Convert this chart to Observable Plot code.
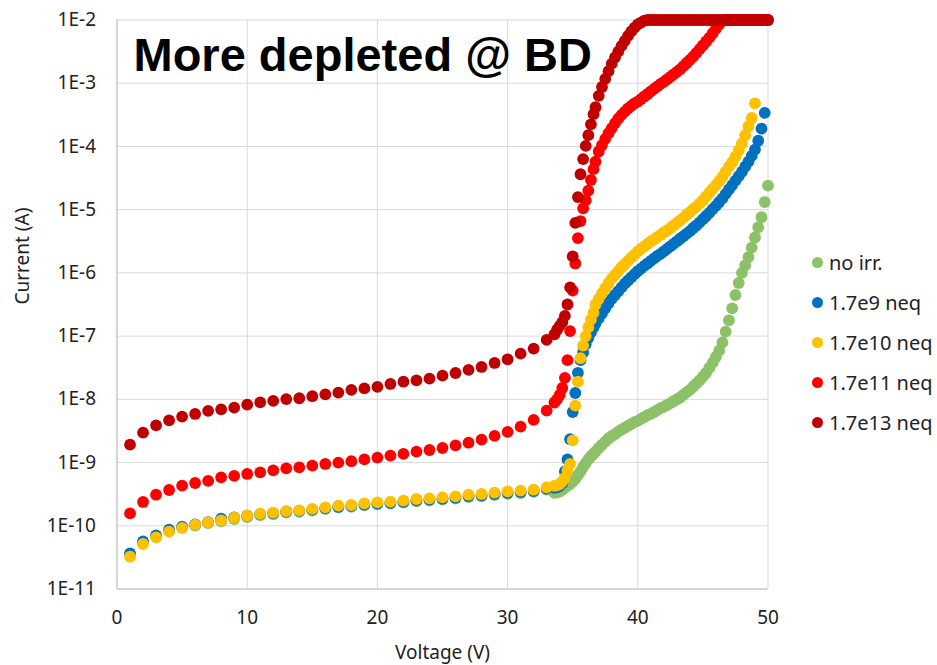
<!DOCTYPE html>
<html>
<head>
<meta charset="utf-8">
<script src="https://cdn.jsdelivr.net/npm/d3@7"></script>
<script src="https://cdn.jsdelivr.net/npm/@observablehq/plot@0.6"></script>
<style>
  body { margin: 0; background: #fff; }
  #wrap { position: relative; width: 937px; height: 665px; font-family: "Noto Sans", sans-serif; }
  #legend { position: absolute; left: 0; top: 0; }
  .item { position: absolute; display: flex; align-items: center; font-size: 20px; color: #222; white-space: nowrap; }
  .swatch { width: 11px; height: 11px; border-radius: 50%; margin-right: 6px; }
</style>
</head>
<body>
<div id="wrap"><div id="legend"></div></div>
<script>
// Bias voltage steps (V): 1 V steps at low bias, finer steps through breakdown
const lowVolts = [1, 2, 3, 4, 5, 6, 7, 8, 9, 10, 11, 12, 13, 14, 15, 16, 17, 18, 19, 20,
  21, 22, 23, 24, 25, 26, 27, 28, 29, 30, 31, 32, 33];
const highVolts = [33.6, 33.8, 34.0, 34.2, 34.4, 34.6, 34.8, 35.0, 35.2, 35.4, 35.6, 35.8,
  36.0, 36.2, 36.4, 36.6,
  36.75, 37.0, 37.25, 37.5, 37.75, 38.0, 38.25, 38.5, 38.75, 39.0, 39.25, 39.5, 39.75,
  40.0, 40.25, 40.5, 40.75, 41.0, 41.25, 41.5, 41.75, 42.0, 42.25, 42.5, 42.75,
  43.0, 43.25, 43.5, 43.75, 44.0, 44.25, 44.5, 44.75, 45.0, 45.25, 45.5, 45.75,
  46.0, 46.25, 46.5, 46.75, 47.0, 47.25, 47.5, 47.75, 48.0, 48.25, 48.5, 48.75,
  49.0, 49.25, 49.5, 49.75, 50.0];

// Leakage current (A); null = no measurement at that step
const noIrrLow = [3.5e-11, 5.4e-11, 6.8e-11, 8.3e-11, 9.4e-11, 1.01e-10, 1.10e-10, 1.18e-10, 1.28e-10, 1.37e-10,
  1.46e-10, 1.52e-10, 1.61e-10, 1.66e-10, 1.74e-10, 1.84e-10, 1.94e-10, 1.99e-10, 2.10e-10, 2.18e-10,
  2.24e-10, 2.32e-10, 2.44e-10, 2.51e-10, 2.60e-10, 2.70e-10, 2.85e-10, 2.93e-10, 3.06e-10, 3.21e-10,
  3.30e-10, 3.43e-10, 3.72e-10];
const noIrrHigh = [3.31e-10, 3.39e-10, 3.47e-10, 3.72e-10, 3.98e-10, 4.27e-10, 4.57e-10, 5.01e-10, 5.50e-10,
  6.31e-10, 7.24e-10, 8.51e-10, 9.77e-10, 1.12e-9, 1.26e-9, 1.38e-9,
  1.48e-9, 1.70e-9, 1.91e-9, 2.14e-9, 2.40e-9, 2.63e-9, 2.82e-9, 3.09e-9, 3.31e-9, 3.55e-9, 3.80e-9,
  4.07e-9, 4.37e-9, 4.57e-9, 4.90e-9, 5.25e-9, 5.62e-9, 5.89e-9, 6.31e-9, 6.76e-9, 7.24e-9, 7.59e-9,
  8.13e-9, 8.71e-9, 9.33e-9, 1.00e-8, 1.07e-8, 1.18e-8, 1.29e-8, 1.41e-8, 1.58e-8, 1.78e-8, 2.00e-8,
  2.29e-8, 2.63e-8, 3.16e-8, 3.80e-8, 4.68e-8, 5.89e-8, 7.94e-8, 1.18e-7, 1.78e-7, 2.75e-7, 4.47e-7,
  6.92e-7, 1.00e-6, 1.32e-6, 1.78e-6, 2.51e-6, 3.63e-6, 5.25e-6, 7.59e-6, 1.32e-5, 2.40e-5];

const e9Low = [3.66e-11, 5.66e-11, 7.05e-11, 8.70e-11, 9.70e-11, 1.05e-10, 1.14e-10, 1.30e-10, 1.36e-10, 1.44e-10,
  1.53e-10, 1.59e-10, 1.68e-10, 1.72e-10, 1.80e-10, 1.90e-10, 2.00e-10, 2.06e-10, 2.17e-10, 2.25e-10,
  2.31e-10, 2.39e-10, 2.52e-10, 2.60e-10, 2.68e-10, 2.78e-10, 2.95e-10, 3.03e-10, 3.18e-10, 3.33e-10,
  3.42e-10, 3.55e-10, 3.88e-10];
const e9High = [3.98e-10, 4.07e-10, 4.27e-10, 4.68e-10, 7.24e-10, 1.12e-9, 2.34e-9, 6.31e-9, 1.26e-8,
  2.63e-8, 4.17e-8, 5.50e-8, 7.41e-8, 9.33e-8, 1.15e-7, 1.38e-7,
  1.58e-7, 1.91e-7, 2.29e-7, 2.75e-7, 3.31e-7, 3.89e-7, 4.47e-7, 5.13e-7, 5.89e-7, 6.76e-7, 7.59e-7,
  8.51e-7, 9.55e-7, 1.07e-6, 1.17e-6, 1.29e-6, 1.41e-6, 1.55e-6, 1.70e-6, 1.86e-6, 2.00e-6, 2.19e-6,
  2.40e-6, 2.63e-6, 2.88e-6, 3.16e-6, 3.47e-6, 3.80e-6, 4.17e-6, 4.57e-6, 5.13e-6, 5.62e-6, 6.31e-6,
  7.08e-6, 7.94e-6, 8.91e-6, 1.02e-5, 1.15e-5, 1.32e-5, 1.51e-5, 1.78e-5, 2.09e-5, 2.45e-5, 2.88e-5,
  3.39e-5, 3.98e-5, 4.79e-5, 5.75e-5, 7.08e-5, 8.91e-5, 1.23e-4, 1.91e-4, 3.39e-4, null];

const e10Low = [3.24e-11, 5.15e-11, 6.56e-11, 8.07e-11, 9.23e-11, 1.04e-10, 1.13e-10, 1.22e-10, 1.34e-10, 1.44e-10,
  1.55e-10, 1.61e-10, 1.71e-10, 1.75e-10, 1.85e-10, 1.96e-10, 2.08e-10, 2.13e-10, 2.26e-10, 2.35e-10,
  2.41e-10, 2.50e-10, 2.65e-10, 2.72e-10, 2.81e-10, 2.92e-10, 3.10e-10, 3.18e-10, 3.34e-10, 3.50e-10,
  3.59e-10, 3.72e-10, 4.05e-10];
const e10High = [4.27e-10, 4.37e-10, 4.57e-10, 5.01e-10, 5.75e-10, 7.59e-10, 9.55e-10, 2.24e-9, 7.94e-9,
  1.91e-8, 4.47e-8, 7.08e-8, 1.00e-7, 1.38e-7, 1.82e-7, 2.34e-7,
  3.16e-7, 3.89e-7, 4.79e-7, 5.75e-7, 6.92e-7, 8.13e-7, 9.33e-7, 1.07e-6, 1.23e-6, 1.38e-6, 1.55e-6,
  1.74e-6, 1.95e-6, 2.19e-6, 2.40e-6, 2.63e-6, 2.88e-6, 3.16e-6, 3.39e-6, 3.72e-6, 3.98e-6, 4.37e-6,
  4.68e-6, 5.13e-6, 5.62e-6, 6.17e-6, 6.76e-6, 7.41e-6, 8.32e-6, 9.12e-6, 1.02e-5, 1.12e-5, 1.26e-5,
  1.41e-5, 1.62e-5, 1.86e-5, 2.14e-5, 2.45e-5, 2.82e-5, 3.31e-5, 3.98e-5, 4.79e-5, 5.62e-5, 6.92e-5,
  8.71e-5, 1.12e-4, 1.51e-4, 2.09e-4, 2.82e-4, 4.79e-4, null, null, null, null];

const e11Low = [1.57e-10, 2.38e-10, 3.10e-10, 3.68e-10, 4.31e-10, 4.75e-10, 5.12e-10, 5.84e-10, 6.14e-10, 6.60e-10,
  7.00e-10, 7.53e-10, 8.10e-10, 8.40e-10, 8.93e-10, 9.50e-10, 9.96e-10, 1.05e-9, 1.12e-9, 1.20e-9,
  1.29e-9, 1.37e-9, 1.49e-9, 1.58e-9, 1.70e-9, 1.87e-9, 2.06e-9, 2.30e-9, 2.64e-9, 3.05e-9,
  3.70e-9, 4.72e-9, 6.62e-9];
const e11High = [8.91e-9, 1.00e-8, 1.17e-8, 1.51e-8, 2.19e-8, 4.17e-8, 1.20e-7, 5.25e-7, 1.41e-6,
  3.55e-6, 6.61e-6, 1.05e-5, 1.41e-5, 2.00e-5, 2.95e-5, 4.37e-5,
  5.75e-5, 8.32e-5, 1.05e-4, 1.32e-4, 1.62e-4, 1.95e-4, 2.34e-4, 2.75e-4, 3.16e-4, 3.55e-4, 3.98e-4,
  4.37e-4, 4.79e-4, 5.13e-4, 5.62e-4, 6.17e-4, 6.76e-4, 7.41e-4, 8.13e-4, 8.91e-4, 9.77e-4, 1.05e-3,
  1.15e-3, 1.26e-3, 1.38e-3, 1.51e-3, 1.66e-3, 1.86e-3, 2.09e-3, 2.34e-3, 2.63e-3, 3.02e-3, 3.47e-3,
  3.98e-3, 4.57e-3, 5.25e-3, 6.17e-3, 7.24e-3, 8.51e-3, 9.77e-3, 1e-2, 1e-2, 1e-2, 1e-2,
  1e-2, 1e-2, 1e-2, 1e-2, 1e-2, 1e-2, 1e-2, 1e-2, 1e-2, 1e-2];

const e13Low = [1.92e-9, 2.97e-9, 3.88e-9, 4.66e-9, 5.33e-9, 5.87e-9, 6.55e-9, 6.95e-9, 7.39e-9, 8.24e-9,
  8.97e-9, 9.44e-9, 1.01e-8, 1.04e-8, 1.12e-8, 1.20e-8, 1.28e-8, 1.41e-8, 1.49e-8, 1.57e-8,
  1.75e-8, 1.90e-8, 2.00e-8, 2.13e-8, 2.37e-8, 2.61e-8, 2.92e-8, 3.25e-8, 3.76e-8, 4.30e-8,
  5.28e-8, 6.34e-8, 8.70e-8];
const e13High = [1.07e-7, 1.26e-7, 1.45e-7, 1.66e-7, 2.09e-7, 3.16e-7, 5.89e-7, 1.82e-6, 6.17e-6,
  1.58e-5, 3.63e-5, 6.31e-5, 1.02e-4, 1.51e-4, 2.24e-4, 3.24e-4,
  4.17e-4, 6.31e-4, 8.71e-4, 1.17e-3, 1.55e-3, 2.04e-3, 2.57e-3, 3.16e-3, 3.89e-3, 4.68e-3, 5.62e-3,
  6.61e-3, 7.59e-3, 8.51e-3, 9.12e-3, 9.77e-3, 1e-2, 1e-2, 1e-2, 1e-2, 1e-2, 1e-2, 1e-2,
  1e-2, 1e-2, 1e-2, 1e-2, 1e-2, 1e-2, 1e-2, 1e-2, 1e-2, 1e-2, 1e-2, 1e-2, 1e-2, 1e-2, 1e-2,
  1e-2, 1e-2, 1e-2, 1e-2, 1e-2, 1e-2, 1e-2, 1e-2, 1e-2, 1e-2, 1e-2, 1e-2, 1e-2, 1e-2, 1e-2, 1e-2];

const seriesNames = ["no irr.", "1.7e9 neq", "1.7e10 neq", "1.7e11 neq", "1.7e13 neq"];
const seriesColors = ["#8CC168", "#0070C0", "#FFC000", "#FF0000", "#C00000"];
const seriesLow = [noIrrLow, e9Low, e10Low, e11Low, e13Low];
const seriesHigh = [noIrrHigh, e9High, e10High, e11High, e13High];

const xTicks = [0, 10, 20, 30, 40, 50];
const yTicks = [1e-11, 1e-10, 1e-9, 1e-8, 1e-7, 1e-6, 1e-5, 1e-4, 1e-3, 1e-2];
const title = "More depleted @ BD";

// Long-format rows per series, skipping missing steps
const seriesRows = seriesNames.map((name, k) => [
  ...lowVolts.map((v, i) => ({ series: name, voltage: v, current: seriesLow[k][i] })),
  ...highVolts.map((v, i) => ({ series: name, voltage: v, current: seriesHigh[k][i] }))
].filter(d => d.current != null));

const chart = Plot.plot({
  width: 937,
  height: 665,
  marginLeft: 116.5,
  marginRight: 169.5,
  marginTop: 19.5,
  marginBottom: 76.5,
  x: { domain: [0, 50] },
  y: { type: "log", domain: [1e-11, 1e-2] },
  style: { fontFamily: "'Noto Sans', sans-serif", fontSize: "19px", color: "#222", background: "#fff", overflow: "visible" },
  marks: [
    Plot.gridX(xTicks, { stroke: "#d9d9d9", strokeOpacity: 1 }),
    Plot.gridY(yTicks, { stroke: "#d9d9d9", strokeOpacity: 1 }),
    Plot.ruleX([0], { stroke: "#bfbfbf" }),
    Plot.ruleY([1e-11], { stroke: "#bfbfbf" }),
    Plot.axisX(xTicks, { tickSize: 0, tickPadding: 21, label: null, fontSize: 19 }),
    Plot.axisY(yTicks, { tickSize: 0, tickPadding: 21, label: null, fontSize: 19,
      tickFormat: d => "1E" + Math.round(Math.log10(d)) }),
    ...seriesRows.map((rows, k) => Plot.dot(rows, {
      x: "voltage", y: "current", r: 5.9, fill: seriesColors[k]
    })),
    Plot.text([title], {
      frameAnchor: "top-left", textAnchor: "start", lineAnchor: "top", dx: 16.5, dy: 18,
      fontSize: 47, fontWeight: "bold", fontFamily: "'Liberation Sans', Arial, sans-serif", fill: "#000"
    }),
    Plot.text(["Voltage (V)"], { frameAnchor: "bottom", lineAnchor: "middle", dy: 64, fontSize: 19, fill: "#222" }),
    Plot.text(["Current (A)"], { frameAnchor: "left", lineAnchor: "middle", rotate: -90, dx: -94, fontSize: 19, fill: "#222" })
  ]
});
document.getElementById("wrap").prepend(chart);

// Legend to the right of the plot area
const legend = document.getElementById("legend");
seriesNames.forEach((name, k) => {
  const item = document.createElement("div");
  item.className = "item";
  item.style.left = "812px";
  item.style.top = (249 + 40 * k) + "px";
  const sw = document.createElement("span");
  sw.className = "swatch";
  sw.style.background = seriesColors[k];
  const label = document.createElement("span");
  label.textContent = name;
  item.append(sw, label);
  legend.append(item);
});
</script>
</body>
</html>
